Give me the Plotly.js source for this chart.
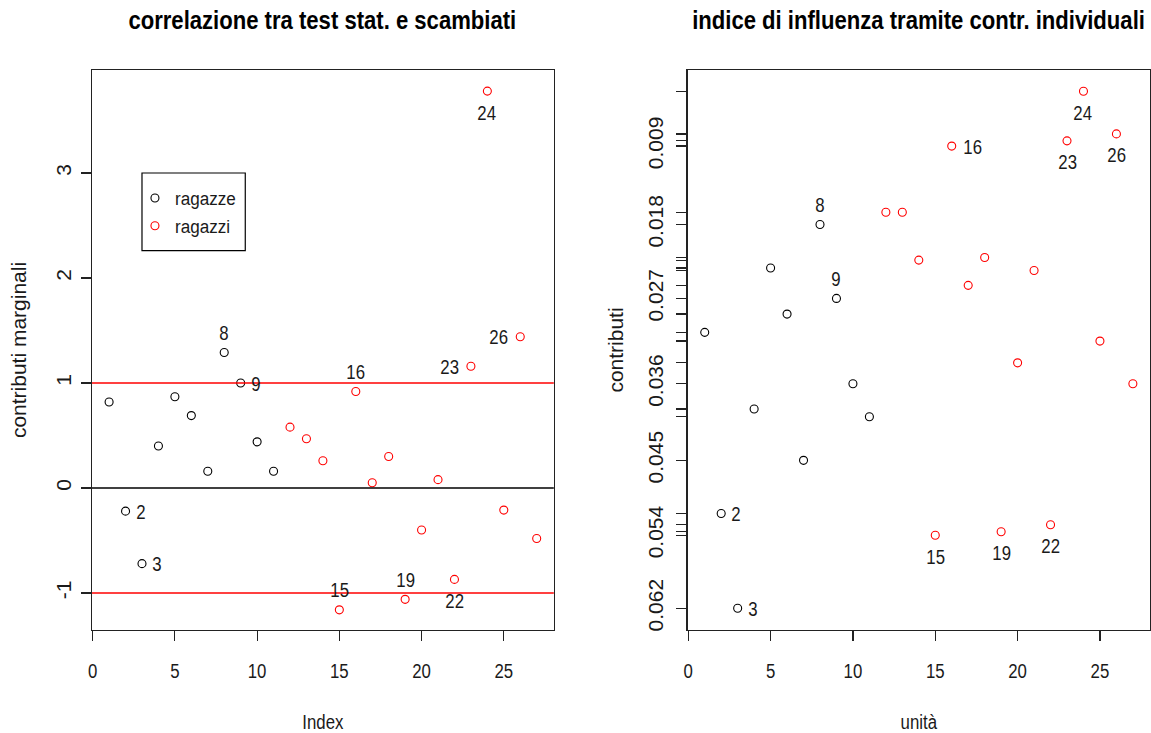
<!DOCTYPE html>
<html>
<head>
<meta charset="utf-8">
<script src="https://cdn.plot.ly/plotly-3.0.1.min.js"></script>
<style>
  html, body { margin: 0; padding: 0; background: #ffffff; }
  #chart { width: 1151px; height: 733px; }
</style>
</head>
<body>
<div id="chart"></div>
<script>
// Units (students) numbered 1..27
const unita = [1, 2, 3, 4, 5, 6, 7, 8, 9, 10, 11, 12, 13, 14, 15, 16, 17, 18, 19, 20, 21, 22, 23, 24, 25, 26, 27];
const gruppo = ['ragazze', 'ragazze', 'ragazze', 'ragazze', 'ragazze', 'ragazze', 'ragazze', 'ragazze', 'ragazze', 'ragazze', 'ragazze',
                'ragazzi', 'ragazzi', 'ragazzi', 'ragazzi', 'ragazzi', 'ragazzi', 'ragazzi', 'ragazzi', 'ragazzi', 'ragazzi',
                'ragazzi', 'ragazzi', 'ragazzi', 'ragazzi', 'ragazzi', 'ragazzi'];

// Marginal contribution of each unit to the correlation
const contributiMarginali = [0.82, -0.22, -0.72, 0.40, 0.87, 0.69, 0.16, 1.29, 1.00, 0.44, 0.16,
                             0.58, 0.47, 0.26, -1.16, 0.92, 0.05, 0.30, -1.06, -0.40, 0.08,
                             -0.87, 1.16, 3.78, -0.21, 1.44, -0.48];

// Individual contributions (influence index)
const contributi = [0.0305, 0.0513, 0.0622, 0.0393, 0.0231, 0.0284, 0.0452, 0.0181, 0.0266, 0.0364, 0.0402,
                    0.0167, 0.0167, 0.0222, 0.0538, 0.0091, 0.0251, 0.0219, 0.0534, 0.0340, 0.0234,
                    0.0526, 0.0085, 0.0028, 0.0315, 0.0077, 0.0364];

// Reference thresholds on the left panel
const soglie = [-1, 1];

// Tick values of the left y axis and their labels (plain hyphen for the minus)
const tickSx = [-1, 0, 1, 2, 3];
const tickSxTesto = ['-1', '0', '1', '2', '3'];
const tickX = [0, 5, 10, 15, 20, 25];

// Units whose number is written next to the point
const identificatiSx = [2, 3, 8, 9, 15, 16, 19, 22, 23, 24, 26];
const identificatiDx = [2, 3, 8, 9, 15, 16, 19, 22, 23, 24, 26];

// Units whose contribution value is printed on the right y axis
const valoriEtichettati = [16, 8, 9, 10, 7, 15, 3];

// ---- layout helpers ----
const FONT = '"Liberation Sans", Arial, sans-serif';
const TXT = '#1a1a1a';
const colori = { ragazze: '#000000', ragazzi: '#ff0000' };
const latoSx = { 2: 'r', 3: 'r', 8: 'a', 9: 'r', 15: 'a', 16: 'a', 19: 'a', 22: 'b', 23: 'l', 24: 'b', 26: 'l' };
const latoDx = { 2: 'r', 3: 'r', 8: 'a', 9: 'a', 15: 'b', 16: 'r', 19: 'b', 22: 'b', 23: 'b', 24: 'b', 26: 'b' };

function labelAnn(u, y, side, xref, yref) {
  const a = { x: u, y: y, xref: xref, yref: yref, text: String(u), showarrow: false,
              font: { family: FONT, size: 21, color: TXT } };
  if (side === 'a') { a.yshift = 20; }
  else if (side === 'b') { a.yshift = -21; }
  else if (side === 'r') { a.xanchor = 'left'; a.xshift = 7; }
  else if (side === 'l') { a.xanchor = 'right'; a.xshift = -8; }
  return a;
}

const traces = [];
['ragazze', 'ragazzi'].forEach(function (g) {
  const xs = [], ySx = [], yDx = [];
  unita.forEach(function (u, i) {
    if (gruppo[i] === g) { xs.push(u); ySx.push(contributiMarginali[i]); yDx.push(contributi[i]); }
  });
  const marker = { symbol: 'circle-open', size: 8, color: colori[g], line: { width: 1.1, color: colori[g] } };
  traces.push({ type: 'scatter', mode: 'markers', name: g, x: xs, y: ySx, xaxis: 'x', yaxis: 'y',
                marker: marker, showlegend: true, hoverinfo: 'x+y' });
  traces.push({ type: 'scatter', mode: 'markers', name: g, x: xs, y: yDx, xaxis: 'x2', yaxis: 'y2',
                marker: marker, showlegend: false, hoverinfo: 'x+y' });
});

const annotations = [];
identificatiSx.forEach(function (u) {
  annotations.push(labelAnn(u, contributiMarginali[u - 1], latoSx[u], 'x', 'y'));
});
identificatiDx.forEach(function (u) {
  annotations.push(labelAnn(u, contributi[u - 1], latoDx[u], 'x2', 'y2'));
});
// panel titles
annotations.push({ text: '<b>correlazione tra test stat. e scambiati</b>', xref: 'x domain', yref: 'paper',
                   x: 0.5, y: 1, yanchor: 'middle', yshift: 50, showarrow: false,
                   font: { family: FONT, size: 26, color: '#000' } });
annotations.push({ text: '<b>indice di influenza tramite contr. individuali</b>', xref: 'x2 domain', yref: 'paper',
                   x: 0.5, y: 1, yanchor: 'middle', yshift: 50, showarrow: false,
                   font: { family: FONT, size: 26, color: '#000' } });

const shapes = [];
soglie.forEach(function (s) {
  shapes.push({ type: 'line', xref: 'x domain', yref: 'y', x0: 0, x1: 1, y0: s, y1: s,
                line: { color: '#ff0000', width: 1.5 } });
});
shapes.push({ type: 'line', xref: 'x domain', yref: 'y', x0: 0, x1: 1, y0: 0, y1: 0,
              line: { color: '#000000', width: 1.5 } });
// legend frame
shapes.push({ type: 'rect', xref: 'x', yref: 'y', x0: 3, x1: 9.28, y0: 2.26, y1: 3,
              line: { color: '#000000', width: 1.2 }, fillcolor: 'rgba(0,0,0,0)' });

const tickTextDx = contributi.map(function (v, i) {
  return valoriEtichettati.indexOf(unita[i]) >= 0 ? v.toFixed(3) : '';
});

const axisCommon = {
  showline: true, mirror: true, linecolor: '#222', linewidth: 1.3,
  ticks: 'outside', ticklen: 10, tickwidth: 1.2, tickcolor: '#222',
  showgrid: false, zeroline: false,
  tickfont: { family: FONT, size: 21, color: TXT }
};

const layout = {
  width: 1151, height: 733,
  margin: { l: 92, r: 1, t: 70, b: 103 },
  paper_bgcolor: '#ffffff', plot_bgcolor: '#ffffff',
  showlegend: true,
  legend: { x: 0.0406, xanchor: 'left', y: 0.805, yanchor: 'top', bgcolor: 'rgba(0,0,0,0)',
            borderwidth: 0, font: { family: FONT, size: 19, color: TXT }, tracegroupgap: 0 },
  xaxis: Object.assign({}, axisCommon, {
    domain: [0, 0.43648], range: [-0.04, 28.04], tickvals: tickX, anchor: 'y',
    ticklabelstandoff: 12,
    title: { text: 'Index', font: { family: FONT, size: 21, color: TXT }, standoff: 32 }
  }),
  yaxis: Object.assign({}, axisCommon, {
    domain: [0, 1], range: [-1.352, 3.981], tickvals: tickSx, ticktext: tickSxTesto,
    tickangle: -90, anchor: 'x', ticklabelstandoff: 1,
    title: { text: 'contributi marginali', font: { family: FONT, size: 21, color: TXT }, standoff: 20 }
  }),
  xaxis2: Object.assign({}, axisCommon, {
    domain: [0.56295, 1], range: [-0.04, 28.04], tickvals: tickX, anchor: 'y2',
    ticklabelstandoff: 12,
    title: { text: 'unità', font: { family: FONT, size: 21, color: TXT }, standoff: 32 }
  }),
  yaxis2: Object.assign({}, axisCommon, {
    domain: [0, 1], range: [0.06469, 0.00036], tickvals: contributi, ticktext: tickTextDx,
    tickangle: -90, anchor: 'x2', ticklabelstandoff: 5,
    title: { text: 'contributi', font: { family: FONT, size: 21, color: TXT }, standoff: 14 }
  }),
  shapes: shapes,
  annotations: annotations
};

// Narrow the horizontal glyphs along their baseline to get a condensed face;
// vertical (rotated) labels keep their natural length
function condense(gd) {
  gd.querySelectorAll('svg text').forEach(function (t) {
    const prev = t.getAttribute('transform') || '';
    if (prev.indexOf('rotate') >= 0) return;
    let k = 0.8;
    if (t.innerHTML.indexOf('bold') >= 0) k = 0.85;
    else if (t.classList.contains('legendtext')) k = 0.9;
    const x0 = parseFloat(t.getAttribute('x')) || 0;
    t.setAttribute('transform', prev + ' translate(' + x0 + ',0) scale(' + k + ',1) translate(' + (-x0) + ',0)');
  });
}

Plotly.newPlot('chart', traces, layout, { displayModeBar: false, staticPlot: true })
  .then(function (gd) { condense(gd); });
</script>
</body>
</html>
